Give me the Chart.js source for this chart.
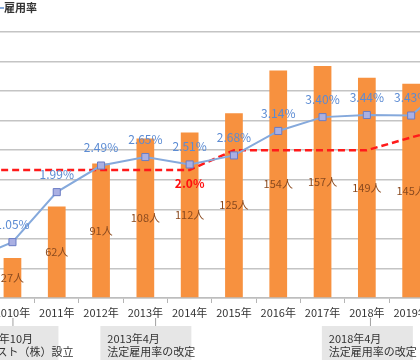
<!DOCTYPE html>
<html>
<head>
<meta charset="utf-8">
<script src="https://cdn.jsdelivr.net/npm/chart.js@4"></script>
<style>
  html, body { margin: 0; padding: 0; background: #fff; overflow: hidden; }
  #wrap { position: absolute; left: -70px; top: 0; width: 570px; height: 360px; }
</style>
</head>
<body>
<div id="wrap"><canvas id="chart"></canvas></div>
<script>
// --- data ---
const years = ['2009年', '2010年', '2011年', '2012年', '2013年', '2014年', '2015年', '2016年', '2017年', '2018年', '2019年', '2020年'];
const staff = [null, 27, 62, 91, 108, 112, 125, 154, 157, 149, 145, null];      // 人
const rate = [0.70, 1.05, 1.99, 2.49, 2.65, 2.51, 2.68, 3.14, 3.40, 3.44, 3.43, 4.15]; // 雇用率 %
const legalRate = [2.0, 2.0, 2.0, 2.0, 2.0, 2.0, 2.2, 2.2, 2.2, 2.2, 2.33, 2.45];  // 法定雇用率 (dashed)
const notes = [
    { idx: 1, shift: 0, lines: ['2010年10月', '\u3000\u3000スト（株）設立'] },
    { idx: 4, shift: 0.22, lines: ['2013年4月', '法定雇用率の改定'] },
    { idx: 9, shift: 0.07, lines: ['2018年4月', '法定雇用率の改定'] }
];
const legalLabelIdx = 5;

const SHIFT = 70; // canvas starts 70px left of the page
const JP = "'Noto Sans CJK JP', 'Noto Sans', sans-serif";

const labelPlugin = {
    id: 'labels',
    afterDatasetsDraw(chart) {
        const ctx = chart.ctx;
        const x = chart.scales.x;
        ctx.save();

        // bar values, centred in the bar
        const bars = chart.getDatasetMeta(0).data;
        ctx.font = '11px ' + JP;
        ctx.fillStyle = '#8a4a1f';
        ctx.textAlign = 'center';
        ctx.textBaseline = 'middle';
        bars.forEach((b, i) => {
            if (staff[i] == null) return;
            ctx.fillText(staff[i] + '人', b.x, (b.y + b.base) / 2);
        });

        // rate values above points
        const pts = chart.getDatasetMeta(2).data;
        ctx.font = '12px ' + JP;
        ctx.fillStyle = '#5b8bd3';
        pts.forEach((p, i) => {
            ctx.fillText(rate[i].toFixed(2) + '%', p.x, p.y - 18);
        });

        // 2.0% under dashed line
        const lp = chart.getDatasetMeta(1).data[legalLabelIdx];
        ctx.font = 'bold 12px ' + JP;
        ctx.fillStyle = '#ff1010';
        ctx.fillText(legalRate[legalLabelIdx].toFixed(1) + '%', lp.x, lp.y + 14);
        ctx.restore();
    },
    afterDraw(chart) {
        const ctx = chart.ctx;
        const x = chart.scales.x;
        const w = x.getPixelForValue(1) - x.getPixelForValue(0);
        ctx.save();

        // note boxes under the axis
        notes.forEach(n => {
            const cx = x.getPixelForValue(n.idx);
            ctx.strokeStyle = '#a0a0a0';
            ctx.lineWidth = 1;
            ctx.beginPath();
            ctx.moveTo(cx + n.shift * w + 0.5, 318);
            ctx.lineTo(cx + n.shift * w + 0.5, 326);
            ctx.stroke();
            ctx.fillStyle = '#e6e6e6';
            ctx.fillRect(cx - 45, 326, 91, 40);
            ctx.fillStyle = '#333';
            ctx.font = '11px ' + JP;
            ctx.textAlign = 'left';
            ctx.textBaseline = 'middle';
            n.lines.forEach((t, k) => ctx.fillText(t, cx - 38, 339 + k * 13));
        });

        // cropped legend at top-left
        ctx.strokeStyle = '#85a9dc';
        ctx.lineWidth = 2;
        ctx.beginPath();
        ctx.moveTo(SHIFT - 10, 8);
        ctx.lineTo(SHIFT + 4, 8);
        ctx.stroke();
        ctx.fillStyle = '#333';
        ctx.font = 'bold 11px ' + JP;
        ctx.textAlign = 'left';
        ctx.textBaseline = 'middle';
        ctx.fillText('雇用率', SHIFT + 4, 8);
        ctx.restore();
    }
};

new Chart(document.getElementById('chart'), {
    data: {
        labels: years,
        datasets: [
            {
                type: 'bar',
                label: '人数',
                data: staff,
                backgroundColor: '#f7913f',
                barPercentage: 0.8,
                categoryPercentage: 0.5,
                yAxisID: 'y',
                order: 3
            },
            {
                type: 'line',
                label: '法定雇用率',
                data: legalRate,
                borderColor: '#ff1a1a',
                borderWidth: 2.5,
                borderDash: [7, 4],
                pointRadius: 0,
                tension: 0,
                yAxisID: 'yLaw',
                order: 2
            },
            {
                type: 'line',
                label: '雇用率',
                data: rate,
                borderColor: '#85a9dc',
                borderWidth: 2,
                pointStyle: 'rect',
                pointRadius: 5,
                pointBackgroundColor: '#aab0e3',
                pointBorderColor: '#6a7cc4',
                pointBorderWidth: 1,
                tension: 0,
                yAxisID: 'yRate',
                order: 1
            }
        ]
    },
    options: {
        responsive: true,
        maintainAspectRatio: false,
        animation: false,
        layout: { padding: { left: 16, right: 22.4, top: 32, bottom: 22 } },
        plugins: { legend: { display: false }, tooltip: { enabled: false } },
        scales: {
            x: {
                offset: true,
                grid: { offset: true, drawOnChartArea: false, tickLength: 5, color: '#b5b5b5' },
                border: { color: '#bdbdbd', width: 1.5 },
                ticks: { color: '#333', font: { family: JP, size: 11 }, padding: 3, maxRotation: 0, autoSkip: false },
                afterFit: s => { s.height = 40; }
            },
            y: {
                min: 0, max: 180,
                ticks: { display: false, stepSize: 20 },
                grid: { color: '#c4c4c4', lineWidth: 1.5, drawTicks: false },
                border: { display: false },
                afterFit: s => { s.width = 0; }
            },
            yRate: { min: 0, max: 5, display: false },
            yLaw: { min: 0.7, max: 3.4, display: false }
        }
    },
    plugins: [labelPlugin]
});
</script>
</body>
</html>
